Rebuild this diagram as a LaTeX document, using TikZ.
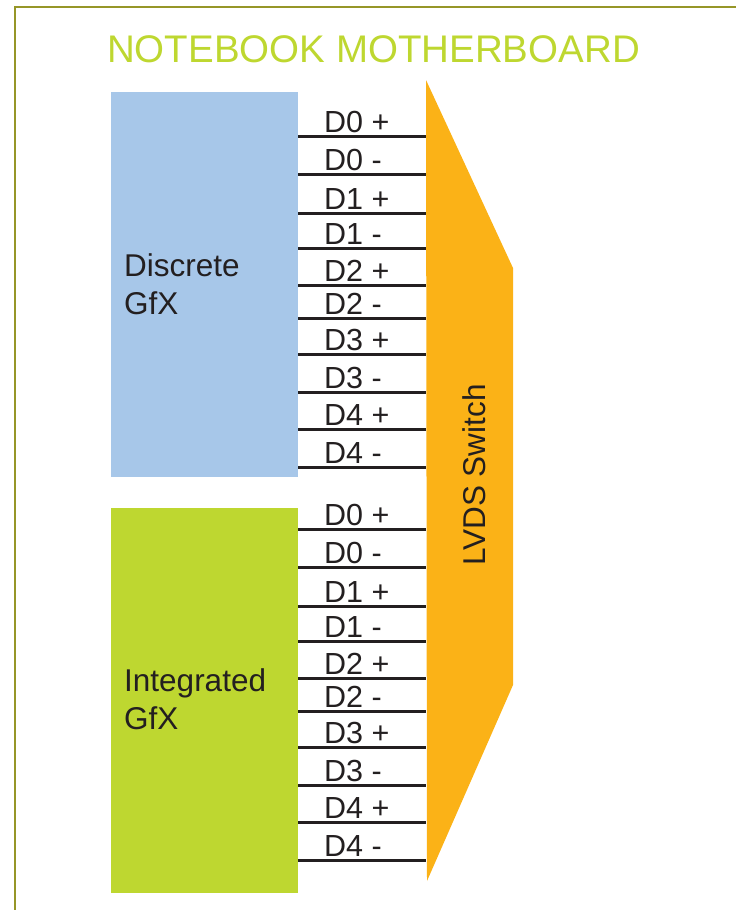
\documentclass[tikz,border=0pt]{standalone}
\usepackage{fontspec}
\setmainfont{Liberation Sans}
\definecolor{frameolive}{RGB}{150,150,40}
\definecolor{gfxblue}{RGB}{167,199,233}
\definecolor{gfxgreen}{RGB}{190,215,48}
\definecolor{switchorange}{RGB}{251,178,23}
\definecolor{textgray}{RGB}{35,31,32}
\tikzset{
  pinlabel/.style={anchor=base west, inner sep=0pt, text=textgray, font=\fontsize{30.5bp}{36bp}\selectfont},
  boxlabel/.style={anchor=base west, inner sep=0pt, text=textgray, align=left, font=\fontsize{31.5bp}{38bp}\selectfont},
  wire/.style={line width=3bp, color=textgray}
}
\begin{document}
\begin{tikzpicture}[x=1bp, y=-1bp]
\useasboundingbox (0,0) rectangle (736,910);
\draw[frameolive, line width=1.5bp] (15,912) -- (15,7) -- (738,7);
\node[anchor=base west, inner sep=0pt, text=gfxgreen, font=\fontsize{38.5bp}{44bp}\selectfont] (title) at (107,62) {NOTEBOOK MOTHERBOARD};
\fill[gfxblue] (111,92) rectangle (298,477);
\fill[gfxgreen] (111,508) rectangle (298,893);
\fill[switchorange] (426,80) -- (513,268) -- (513,685) -- (427,881) -- cycle;
\node[boxlabel] (dgfx) at (124,314) {Discrete\\GfX};
\node[boxlabel] (igfx) at (124,729) {Integrated\\GfX};
\node[anchor=base west, inner sep=0pt, text=textgray, rotate=90, font=\fontsize{31.5bp}{36bp}\selectfont] (lvds) at (485,566) {LVDS Switch};
\foreach \y/\txt [count=\i] in {136/D0 +, 174/D0 -, 213/D1 +, 248/D1 -, 285/D2 +, 318/D2 -, 354/D3 +, 392/D3 -, 429/D4 +, 467/D4 -}{
  \coordinate (da\i) at (298,\y);
  \coordinate (db\i) at (426,\y);
  \draw[wire] (da\i) -- (db\i);
  \node[pinlabel] (dl\i) at (324,\y-3.5) {\txt};
  \coordinate (ia\i) at (298,\y+393);
  \coordinate (ib\i) at (426,\y+393);
  \draw[wire] (ia\i) -- (ib\i);
  \node[pinlabel] (il\i) at (324,\y+389.5) {\txt};
}
\end{tikzpicture}
\end{document}
